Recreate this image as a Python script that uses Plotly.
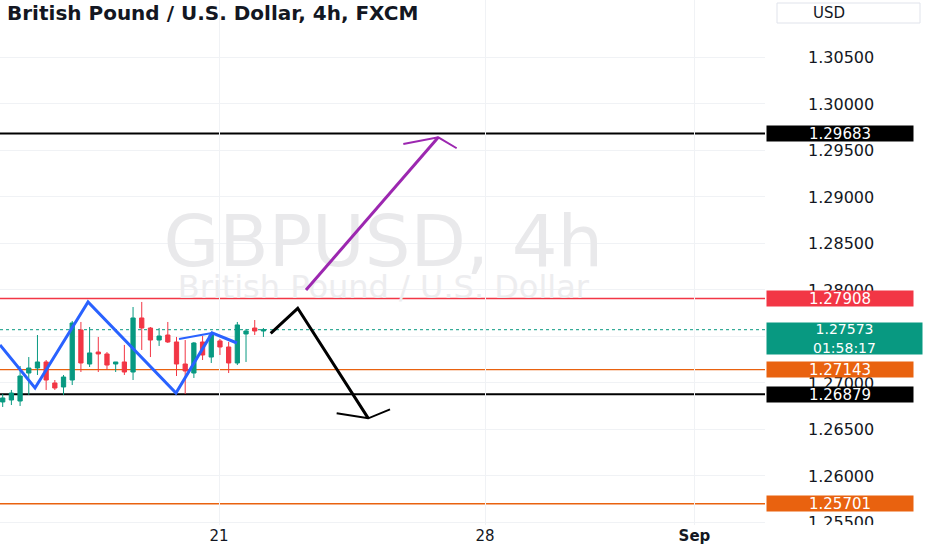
import plotly.graph_objects as go

# ---------------- data ----------------
bar_index = list(range(31))
opens = [1.26796, 1.26817, 1.26806, 1.27107, 1.27161, 1.27226, 1.27000, 1.26957, 1.27032, 1.27570,
         1.27204, 1.27333, 1.27312, 1.27204, 1.27226, 1.27118, 1.27699, 1.27591, 1.27462, 1.27516,
         1.27441, 1.27204, 1.27107, 1.27441, 1.27279, 1.27452, 1.27387, 1.27215, 1.27527, 1.27591, 1.27559]
highs = [1.26882, 1.26925, 1.27183, 1.27279, 1.27516, 1.27247, 1.27032, 1.27086, 1.27667, 1.27656,
         1.27602, 1.27495, 1.27333, 1.27226, 1.27409, 1.27817, 1.27871, 1.27602, 1.27591, 1.27656,
         1.27495, 1.27462, 1.27441, 1.27505, 1.27548, 1.27473, 1.27441, 1.27656, 1.27581, 1.27677, 1.27591]
lows = [1.26742, 1.26763, 1.26753, 1.26871, 1.27086, 1.26925, 1.26925, 1.26871, 1.26978, 1.27118,
        1.27172, 1.27118, 1.27140, 1.27118, 1.27086, 1.27032, 1.27355, 1.27279, 1.27398, 1.27430,
        1.27075, 1.26882, 1.27054, 1.27247, 1.27215, 1.27301, 1.27107, 1.27193, 1.27226, 1.27516, 1.27495]
closes = [1.26839, 1.26892, 1.27075, 1.27161, 1.27226, 1.27032, 1.26946, 1.27064, 1.27645, 1.27215,
          1.27323, 1.27312, 1.27193, 1.27226, 1.27118, 1.27699, 1.27591, 1.27462, 1.27505, 1.27441,
          1.27204, 1.27129, 1.27430, 1.27301, 1.27516, 1.27387, 1.27215, 1.27624, 1.27559, 1.27559, 1.27573]

level_prices = [1.29683, 1.27908, 1.27143, 1.26879, 1.25701]
level_labels = ["1.29683", "1.27908", "1.27143", "1.26879", "1.25701"]
level_colors = ["#000000", "#F23645", "#E9620F", "#000000", "#E9620F"]
level_widths = [2, 1.5, 1.2, 2, 1.5]

last_price = 1.27573
last_price_label = "1.27573"
countdown = "01:58:17"

# price-scale ticks (1.27500 sits under the last-price label and is not shown)
y_tick_vals = [1.255, 1.260, 1.265, 1.270, 1.280, 1.285, 1.290, 1.295, 1.300, 1.305]
y_tick_text = ["1.25500", "1.26000", "1.26500", "1.27000", "1.28000",
               "1.28500", "1.29000", "1.29500", "1.30000", "1.30500"]
x_tick_vals = [24.9, 55.5, 79.6]
x_tick_text = ["21", "28", "<b>Sep</b>"]

# drawings (bar index, price)
zigzag_x = [-0.31, 3.72, 9.82, 19.94, 24.09, 26.96]
zigzag_y = [1.27409, 1.26946, 1.27871, 1.26892, 1.27538, 1.27430]
neck_x = [20.29, 24.09]
neck_y = [1.27473, 1.27538]
down_x = [30.84, 33.95, 42.07]
down_y = [1.27534, 1.27803, 1.26620]
down_head_x = [38.43, 42.07, 44.57]
down_head_y = [1.26674, 1.26620, 1.26717]
up_x = [34.90, 50.13]
up_y = [1.28000, 1.29642]
up_head_x = [46.10, 50.13, 52.24]
up_head_y = [1.29570, 1.29642, 1.29524]

symbol_title = "British Pound / U.S. Dollar, 4h, FXCM"
watermark_big = "GBPUSD, 4h"
watermark_small = "British Pound / U.S. Dollar"

# ---------------- figure ----------------
GREEN = "#089981"
RED = "#F23645"
TEXT = "#131722"
FONT = "DejaVu Sans"

fig = go.Figure()

# watermark (drawn first so it stays behind)
fig.add_trace(go.Scatter(x=[43.8], y=[1.28450], mode="text", text=[watermark_big],
                         textfont=dict(family=FONT, size=72, color="#e9e9eb"),
                         hoverinfo="skip", showlegend=False))
fig.add_trace(go.Scatter(x=[43.8], y=[1.28000], mode="text", text=[watermark_small],
                         textfont=dict(family=FONT, size=32, color="#ededef"),
                         hoverinfo="skip", showlegend=False))

fig.add_trace(go.Candlestick(
    x=bar_index, open=opens, high=highs, low=lows, close=closes,
    increasing=dict(line=dict(color=GREEN, width=1), fillcolor=GREEN),
    decreasing=dict(line=dict(color=RED, width=1), fillcolor=RED),
    whiskerwidth=0, hoverinfo="skip", showlegend=False))

line_style = dict(mode="lines", hoverinfo="skip", showlegend=False)
fig.add_trace(go.Scatter(x=zigzag_x, y=zigzag_y, line=dict(color="#2962FF", width=3), **line_style))
fig.add_trace(go.Scatter(x=neck_x, y=neck_y, line=dict(color="#2962FF", width=2), **line_style))
fig.add_trace(go.Scatter(x=down_x, y=down_y, line=dict(color="#000000", width=3), **line_style))
fig.add_trace(go.Scatter(x=down_head_x, y=down_head_y, line=dict(color="#000000", width=2), **line_style))
fig.add_trace(go.Scatter(x=up_x, y=up_y, line=dict(color="#9C27B0", width=3), **line_style))
fig.add_trace(go.Scatter(x=up_head_x, y=up_head_y, line=dict(color="#9C27B0", width=2), **line_style))

shapes = []
# faint grid line at 1.27500 (its label is covered in the original)
shapes.append(dict(type="line", xref="paper", x0=0, x1=1, yref="y", y0=1.275, y1=1.275,
                   line=dict(color="#f0f2f5", width=1), layer="below"))
for p, c, w in zip(level_prices, level_colors, level_widths):
    shapes.append(dict(type="line", xref="paper", x0=0, x1=1, yref="y", y0=p, y1=p,
                       line=dict(color=c, width=w), layer="between"))
shapes.append(dict(type="line", xref="paper", x0=0, x1=1, yref="y", y0=last_price, y1=last_price,
                   line=dict(color=GREEN, width=1, dash="dot"), layer="between"))
# cover below the plot on the price scale (clips the lowest tick label)
shapes.append(dict(type="rect", xref="paper", x0=1.0, x1=1.25, yref="paper", y0=-0.06, y1=0,
                   fillcolor="white", line=dict(width=0), layer="above"))
# currency box
shapes.append(dict(type="rect", xref="paper", x0=777 / 765, x1=920 / 765, yref="paper",
                   y0=1 - 23 / 525, y1=1 - 3 / 525, line=dict(color="#e0e3eb", width=1),
                   fillcolor="white", layer="above"))

annotations = []
label_x = 840 / 765
for p, t, c in zip(level_prices, level_labels, level_colors):
    annotations.append(dict(xref="paper", x=label_x, xanchor="center", yref="y", y=p, yanchor="middle",
                            text=t, showarrow=False, bgcolor=c, width=146, height=15, borderpad=0,
                            font=dict(family=FONT, size=15, color="white")))
annotations.append(dict(xref="paper", x=844 / 765, xanchor="center", yref="y", y=last_price,
                        yanchor="top", yshift=8, text=last_price_label + "<br>" + countdown,
                        showarrow=False, bgcolor=GREEN, width=155, height=31, borderpad=0,
                        font=dict(family=FONT, size=14, color="white")))
annotations.append(dict(xref="paper", x=829 / 765, xanchor="center", yref="paper", y=1 - 13 / 525,
                        yanchor="middle", text="USD", showarrow=False,
                        font=dict(family=FONT, size=15, color=TEXT)))
annotations.append(dict(xref="paper", x=5 / 765, xanchor="left", yref="paper", y=1 - 13 / 525,
                        yanchor="middle", text="<b>" + symbol_title + "</b>", showarrow=False,
                        font=dict(family=FONT, size=20, color=TEXT)))

fig.update_layout(
    width=932, height=550,
    margin=dict(l=0, r=167, t=0, b=25),
    paper_bgcolor="white", plot_bgcolor="white",
    shapes=shapes, annotations=annotations,
    xaxis=dict(range=[-0.311, 87.72], rangeslider=dict(visible=False), showgrid=True,
               gridcolor="#f0f2f5", zeroline=False, showline=False,
               tickmode="array", tickvals=x_tick_vals, ticktext=x_tick_text,
               tickfont=dict(family=FONT, size=15, color=TEXT), ticks=""),
    yaxis=dict(side="right", range=[1.25473, 1.31118], showgrid=True, gridcolor="#f0f2f5",
               zeroline=False, showline=False, tickmode="array", tickvals=y_tick_vals,
               ticktext=y_tick_text, tickfont=dict(family=FONT, size=16, color=TEXT),
               ticks="", ticklabelstandoff=42),
    hovermode=False,
)

fig.write_html("out.html", config={"displayModeBar": False},
               post_script="document.body.style.margin='0';")
